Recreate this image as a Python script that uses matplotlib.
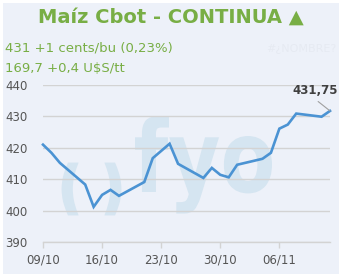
import matplotlib
matplotlib.use("Agg")
import matplotlib.pyplot as plt
import matplotlib.dates as mdates
import pandas as pd
from matplotlib.patches import Rectangle, PathPatch
from matplotlib.textpath import TextPath
from matplotlib.font_manager import FontProperties
from matplotlib.transforms import Affine2D

dates = ["2024-10-09", "2024-10-10", "2024-10-11", "2024-10-14", "2024-10-15",
         "2024-10-16", "2024-10-17", "2024-10-18", "2024-10-21", "2024-10-22",
         "2024-10-23", "2024-10-24", "2024-10-25", "2024-10-28", "2024-10-29",
         "2024-10-30", "2024-10-31", "2024-11-01", "2024-11-04", "2024-11-05",
         "2024-11-06", "2024-11-07", "2024-11-08", "2024-11-11", "2024-11-12"]
values = [421.0, 418.4, 415.2, 408.3, 401.2,
          405.0, 406.6, 404.7, 409.1, 416.7,
          419.0, 421.3, 414.9, 410.4, 413.6,
          411.4, 410.6, 414.6, 416.5, 418.4,
          426.1, 427.4, 430.9, 429.9, 431.75]
yticks = [390, 400, 410, 420, 430, 440]
xtick_dates = ["2024-10-09", "2024-10-16", "2024-10-23", "2024-10-30", "2024-11-06"]
title = "Maíz Cbot - CONTINUA ▲"
line1 = "431 +1 cents/bu (0,23%)"
line2 = "169,7 +0,4 U$S/tt"
last_label = "431,75"

BG = "#EDF1F9"
GREEN = "#78AE45"
LINE = "#4B93D3"
WM = "#D5E5F1"

x = pd.to_datetime(dates)
W, H = 342, 277
fig = plt.figure(figsize=(W / 100, H / 100), dpi=100)
fig.patch.set_facecolor("white")
fig.patches.append(Rectangle((3 / W, 3 / H), 1 - 6 / W, 1 - 6 / H,
                             transform=fig.transFigure, facecolor=BG,
                             edgecolor="none", zorder=-10))

fig.text(171 / W, 1 - 17 / H, title, ha="center", va="center",
         fontsize=14, fontweight="bold", color=GREEN)
fig.text(5 / W, 1 - 48 / H, line1, ha="left", va="center",
         fontsize=9.5, color=GREEN)
fig.text(5 / W, 1 - 69 / H, line2, ha="left", va="center",
         fontsize=9.5, color=GREEN)
fig.text(301 / W, 1 - 49 / H, "#¿NOMBRE?", ha="center", va="center",
         fontsize=8, color="#E6EAF2")

# watermark logo (drawn in pixel coordinates, y from bottom)
fp = FontProperties(family="DejaVu Sans", weight="bold")
tp = TextPath((0, 0), "fyo", size=1, prop=fp)
ext = tp.get_extents()
sx = (272 - 135) / ext.width
sy = 100.0
tr = Affine2D().translate(-ext.x0, 0).scale(sx, sy).translate(135, H - 192)
fig.patches.append(PathPatch(tr.transform_path(tp), facecolor=WM,
                             edgecolor="none", zorder=-5,
                             transform=Affine2D()))
tp2 = TextPath((0, 0), "(  )", size=1, prop=fp)
ext2 = tp2.get_extents()
sx2 = (119 - 64) / ext2.width
sy2 = 48.0 / ext2.height
tr2 = Affine2D().translate(-ext2.x0, -ext2.y0).scale(sx2, sy2).translate(64, H - 213)
fig.patches.append(PathPatch(tr2.transform_path(tp2), facecolor=WM,
                             edgecolor=WM, linewidth=3.5, zorder=-5,
                             transform=Affine2D()))

ax = fig.add_axes([43 / W, 1 - 242 / H, (330 - 43) / W, (242 - 85) / H],
                  zorder=5)
ax.set_facecolor("none")
ax.set_ylim(390, 440)
ax.set_xlim(pd.Timestamp("2024-10-09"), pd.Timestamp("2024-11-12"))

ax.set_yticks(yticks)
ax.grid(axis="y", color="#D3D3D3", linewidth=1.0)
ax.set_axisbelow(True)
for s in ["top", "right", "left"]:
    ax.spines[s].set_visible(False)
ax.spines["bottom"].set_color("#D3D3D3")
ax.spines["bottom"].set_linewidth(1.0)
ax.tick_params(axis="y", length=0, pad=11, labelsize=8.5, labelcolor="#555555")
ax.tick_params(axis="x", length=4, width=1, color="#D3D3D3", pad=4,
               labelsize=8.5, labelcolor="#555555")
ax.set_xticks(pd.to_datetime(xtick_dates))
ax.xaxis.set_major_formatter(mdates.DateFormatter("%d/%m"))

ax.plot(x, values, color=LINE, linewidth=1.9, solid_joinstyle="miter", zorder=3,
        clip_on=False)

ax.annotate(last_label, xy=(x[-1], values[-1]), xytext=(-11, 10),
            textcoords="offset points", ha="center", va="bottom",
            fontsize=8.5, fontweight="bold", color="#404040",
            arrowprops=dict(arrowstyle="-", color="#A0A0A0", lw=0.8,
                            shrinkA=2, shrinkB=0, relpos=(0.45, 0)))

fig.savefig("out.png", dpi=100, facecolor=fig.get_facecolor())
